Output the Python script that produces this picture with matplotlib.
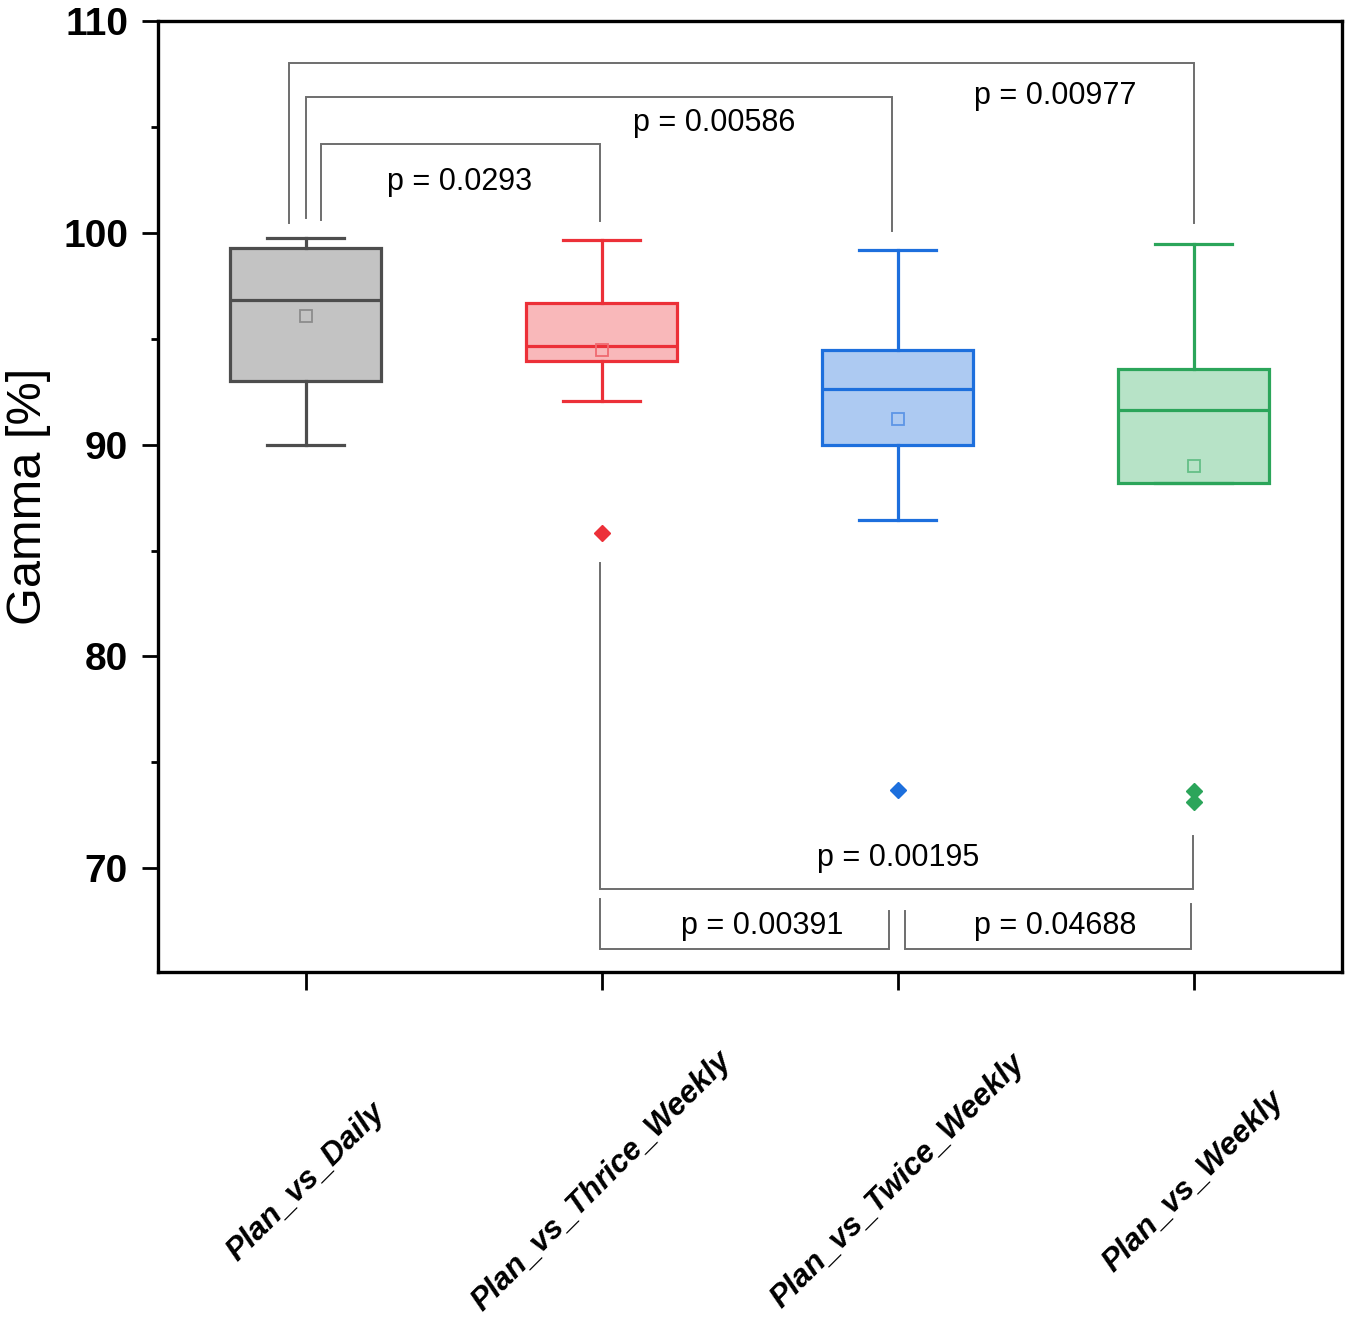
import matplotlib.pyplot as plt
from matplotlib.ticker import MultipleLocator

plt.rcParams['font.family'] = ['Liberation Sans', 'DejaVu Sans']

# Box statistics
groups = ["Plan_vs_Daily", "Plan_vs_Thrice_Weekly", "Plan_vs_Twice_Weekly", "Plan_vs_Weekly"]
whislo = [90.0, 92.06, 86.42, 88.2]
q1 = [93.0, 93.96, 90.0, 88.2]
med = [96.84, 94.68, 92.62, 91.65]
q3 = [99.27, 96.67, 94.48, 93.58]
whishi = [99.76, 99.67, 99.19, 99.47]
means = [96.05, 94.48, 91.23, 89.0]
fliers = [[], [85.85], [73.68], [73.63, 73.11]]

edge_colors = ["#4d4d4d", "#ec3038", "#1d6fdd", "#2ba55a"]
fill_colors = ["#c3c3c3", "#f9b8ba", "#adcaf2", "#b7e3c7"]
mean_colors = ["#8c8c8c", "#f06a70", "#5d95e6", "#64bf87"]

# Significance brackets: x1, x2, bar level, leg end at x1, leg end at x2, label, label x, label y
brackets = [
    (0.943, 4.0, 108.0, 100.45, 100.47, "p = 0.00977", 3.53, 106.45),
    (1.0, 2.98, 106.4, 100.7, 100.08, "p = 0.00586", 2.38, 105.2),
    (1.05, 1.993, 104.2, 100.6, 100.56, "p = 0.0293", 1.52, 102.4),
    (1.993, 3.997, 69.04, 84.4, 71.5, "p = 0.00195", 3.0, 70.5),
    (1.993, 2.97, 66.2, 68.55, 67.97, "p = 0.00391", 2.54, 67.25),
    (3.024, 3.99, 66.2, 67.97, 68.3, "p = 0.04688", 3.53, 67.25),
]

stats = []
for i, name in enumerate(groups):
    stats.append(dict(label=name, whislo=whislo[i], q1=q1[i], med=med[i],
                      q3=q3[i], whishi=whishi[i], mean=means[i], fliers=fliers[i]))

fig = plt.figure(figsize=(13.5, 13.23), dpi=100)
ax = fig.add_axes([0.117, 0.2653, 0.877, 0.7188])

positions = [1, 2, 3, 4]
for i in range(4):
    c = edge_colors[i]
    ax.bxp([stats[i]], positions=[positions[i]], widths=0.51, capwidths=0.26,
           patch_artist=True, showmeans=True,
           boxprops=dict(facecolor=fill_colors[i], edgecolor=c, linewidth=2.3),
           medianprops=dict(color=c, linewidth=2.3),
           whiskerprops=dict(color=c, linewidth=2.3),
           capprops=dict(color=c, linewidth=2.3),
           meanprops=dict(marker="s", markersize=8, markerfacecolor="none",
                          markeredgecolor=mean_colors[i], markeredgewidth=1.3),
           flierprops=dict(marker="D", markersize=8.5, markerfacecolor=c,
                           markeredgecolor=c))

for x1, x2, yb, e1, e2, label, tx, ty in brackets:
    ax.plot([x1, x1, x2, x2], [e1, yb, yb, e2], color="#6e6e6e", linewidth=1.4,
            solid_joinstyle="miter", zorder=1)
    ax.text(tx, ty, label, fontsize=22, ha="center", va="center")

ax.set_xlim(0.5, 4.5)
ax.set_ylim(65.1, 110)
ax.yaxis.set_major_locator(MultipleLocator(10))
ax.yaxis.set_minor_locator(MultipleLocator(5))
ax.set_yticks([70, 80, 90, 100, 110])

for side in ["left", "right", "top", "bottom"]:
    ax.spines[side].set_linewidth(2.4)

ax.tick_params(axis="y", which="major", direction="out", length=11.5, width=2.0,
               pad=10, labelsize=28)
ax.tick_params(axis="y", which="minor", direction="out", length=5, width=2.0)
ax.tick_params(axis="x", direction="out", length=13, width=2.0, pad=138)
for lab in ax.get_yticklabels():
    lab.set_fontweight("bold")

ax.set_xticks(positions)
ax.set_xticklabels(groups, rotation=45, ha="center", va="center",
                   rotation_mode="anchor", fontsize=22.5, fontweight="bold",
                   fontstyle="italic")

ax.set_ylabel("Gamma [%]", fontsize=35)
ax.yaxis.set_label_coords(-0.09, 0.5)

fig.savefig("out.png", dpi=100)
